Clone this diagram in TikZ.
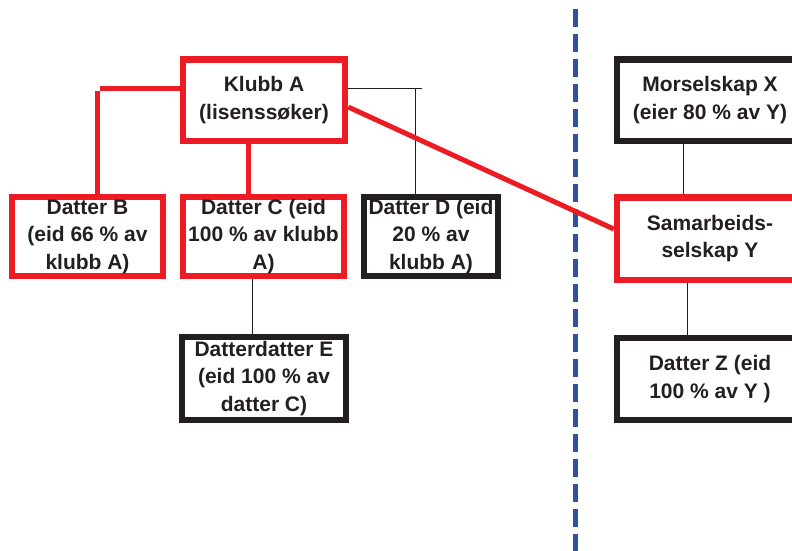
\documentclass[tikz,border=0pt]{standalone}
\usepackage{fontspec}
\setmainfont{Liberation Sans}
\definecolor{kred}{HTML}{ED1C24}
\definecolor{kblack}{HTML}{231F20}
\definecolor{kblue}{HTML}{2F52A0}
\begin{document}
\begin{tikzpicture}[x=1pt,y=-1pt,
  box/.style={draw, line width=6.5pt, inner sep=0pt, fill=none, align=center,
    text=kblack, font=\fontsize{21}{27.5}\selectfont\bfseries},
  redbox/.style={box, draw=kred},
  blackbox/.style={box, draw=kblack},
  redline/.style={draw=kred, line width=5pt},
  thinline/.style={draw=kblack, line width=1pt}]
\useasboundingbox (0,0) rectangle (792,551);
\clip (0,0) rectangle (792,551);
% divider
\draw[kblue, line width=5pt, dash pattern=on 18pt off 7pt] (575,9) -- (575,551);
% boxes
\node[redbox, minimum width=162pt, minimum height=81.5pt] (A) at (264,100.25) {Klubb A\\(lisenssøker)};
\node[redbox, minimum width=151pt, minimum height=79pt] (B) at (87.5,236.5) {Datter B\\(eid 66 \% av\\klubb A)};
\node[redbox, minimum width=161pt, minimum height=79pt] (C) at (263.5,236.5) {Datter C (eid\\100 \% av klubb\\A)};
\node[blackbox, minimum width=134pt, minimum height=79pt] (D) at (431,236.5) {Datter D (eid\\20 \% av\\klubb A)};
\node[blackbox, minimum width=164pt, minimum height=83pt] (E) at (264,378.5) {Datterdatter E\\(eid 100 \% av\\datter C)};
\node[blackbox, minimum width=186pt, minimum height=81.5pt] (X) at (710,100.25) {Morselskap X\\(eier 80 \% av Y)};
\node[redbox, minimum width=186pt, minimum height=82.5pt] (Y) at (710,238.75) {Samarbeids-\\selskap Y};
\node[blackbox, minimum width=186pt, minimum height=82pt] (Z) at (710,379) {Datter Z (eid\\100 \% av Y )};
% helper coordinates
\coordinate (ry) at (0,88);
\coordinate (bx) at (97,0);
\coordinate (cx) at (248,0);
\coordinate (dx) at (415,0);
\coordinate (dend) at (422,88);
\coordinate (dturn) at (415,88);
\coordinate (bend) at (100,88);
\coordinate (btop) at (97,90.5);
\coordinate (ay) at (0,107);
\coordinate (yy) at (0,229);
\coordinate (ex) at (252,0);
\coordinate (xx) at (683,0);
\coordinate (zx) at (687,0);
% connectors
\draw[redline] (A.west |- ry) -- (bend);
\draw[redline] (btop) -- (B.north -| bx);
\draw[redline] (A.south -| cx) -- (C.north -| cx);
\draw[thinline] (A.east |- ry) -- (dend);
\draw[thinline] (dturn) -- (D.north -| dx);
\draw[redline] (A.east |- ay) -- (Y.west |- yy);
\draw[thinline] (C.south -| ex) -- (E.north -| ex);
\draw[thinline] (X.south -| xx) -- (Y.north -| xx);
\draw[thinline] (Y.south -| zx) -- (Z.north -| zx);
\end{tikzpicture}
\end{document}
